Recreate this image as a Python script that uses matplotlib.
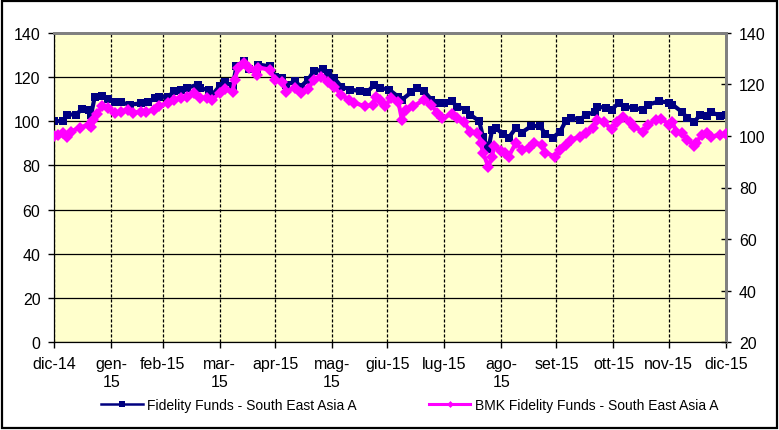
import matplotlib
matplotlib.use('Agg')
import matplotlib.pyplot as plt
from matplotlib.patches import Rectangle
import pandas as pd

plt.rcParams['font.family'] = ['Liberation Sans', 'DejaVu Sans']

# Fidelity Funds - South East Asia A (left axis)
fund_dates = ['2014-12-31', '2015-01-05', '2015-01-07', '2015-01-12', '2015-01-15', '2015-01-19',
              '2015-01-20', '2015-01-22', '2015-01-26', '2015-01-29', '2015-02-02', '2015-02-05',
              '2015-02-10', '2015-02-16', '2015-02-20', '2015-02-24', '2015-02-26', '2015-03-03',
              '2015-03-06', '2015-03-10', '2015-03-13', '2015-03-19', '2015-03-20', '2015-03-25',
              '2015-03-27', '2015-03-31', '2015-04-03', '2015-04-07', '2015-04-09', '2015-04-13',
              '2015-04-16', '2015-04-20', '2015-04-21', '2015-04-27', '2015-04-30', '2015-05-04',
              '2015-05-06', '2015-05-11', '2015-05-14', '2015-05-18', '2015-05-21', '2015-05-26',
              '2015-05-29', '2015-06-01', '2015-06-05', '2015-06-10', '2015-06-15', '2015-06-19',
              '2015-06-23', '2015-06-26', '2015-07-01', '2015-07-06', '2015-07-08', '2015-07-13',
              '2015-07-16', '2015-07-20', '2015-07-24', '2015-07-28', '2015-07-31', '2015-08-04',
              '2015-08-07', '2015-08-12', '2015-08-14', '2015-08-19', '2015-08-21', '2015-08-24',
              '2015-08-26', '2015-08-28', '2015-09-01', '2015-09-04', '2015-09-08', '2015-09-11',
              '2015-09-16', '2015-09-21', '2015-09-24', '2015-09-28', '2015-10-02', '2015-10-05',
              '2015-10-08', '2015-10-13', '2015-10-16', '2015-10-21', '2015-10-22', '2015-10-27',
              '2015-10-30', '2015-11-03', '2015-11-06', '2015-11-11', '2015-11-16', '2015-11-19',
              '2015-11-25', '2015-11-30', '2015-12-02', '2015-12-07', '2015-12-10', '2015-12-14',
              '2015-12-17', '2015-12-21', '2015-12-23', '2015-12-28', '2015-12-31']
fund_values = [100, 100, 103, 103, 105.5, 105,
               103, 111, 111.5, 110, 108.5, 108.5,
               107.5, 108, 108.5, 110.5, 111, 111,
               113.5, 114, 115, 116.5, 115, 114,
               112, 116, 117.5, 116, 124.8, 127,
               123.4, 122.5, 125.6, 124.8, 120, 119.7,
               116.5, 118, 115.6, 118.8, 122.5, 123.4,
               121.9, 119.7, 115.6, 114.3, 113.6, 113,
               116.5, 115, 114.3, 111, 109.7, 113,
               115, 113.6, 109.7, 108.4, 108, 109,
               106.6, 105.2, 103, 100, 93, 87.5,
               96, 97, 94, 92.5, 97, 94.8,
               97.6, 98, 94, 92.5, 95.3, 100,
               101.6, 100.7, 103, 104, 106.6, 106,
               105.2, 108.4, 106.6, 106, 105.2, 107.5,
               109, 108.4, 107.5, 104.3, 101.6, 99.5,
               103, 102.5, 104, 102.5, 103]

# BMK Fidelity Funds - South East Asia A (right axis)
bmk_dates = ['2014-12-31', '2015-01-02', '2015-01-05', '2015-01-07', '2015-01-09', '2015-01-14',
             '2015-01-19', '2015-01-20', '2015-01-21', '2015-01-23', '2015-01-26', '2015-01-29',
             '2015-02-02', '2015-02-05', '2015-02-09', '2015-02-12', '2015-02-16', '2015-02-19',
             '2015-02-23', '2015-02-26', '2015-03-03', '2015-03-06', '2015-03-10', '2015-03-13',
             '2015-03-17', '2015-03-20', '2015-03-24', '2015-03-27', '2015-03-31', '2015-04-03',
             '2015-04-07', '2015-04-08', '2015-04-10', '2015-04-13', '2015-04-16', '2015-04-20',
             '2015-04-21', '2015-04-27', '2015-04-30', '2015-05-04', '2015-05-06', '2015-05-11',
             '2015-05-14', '2015-05-18', '2015-05-21', '2015-05-25', '2015-05-29', '2015-06-01',
             '2015-06-05', '2015-06-09', '2015-06-12', '2015-06-18', '2015-06-22', '2015-06-24',
             '2015-06-26', '2015-06-29', '2015-07-02', '2015-07-06', '2015-07-08', '2015-07-10',
             '2015-07-14', '2015-07-20', '2015-07-24', '2015-07-27', '2015-07-30', '2015-08-04',
             '2015-08-07', '2015-08-11', '2015-08-14', '2015-08-18', '2015-08-20', '2015-08-21',
             '2015-08-24', '2015-08-26', '2015-08-27', '2015-08-31', '2015-09-02', '2015-09-04',
             '2015-09-08', '2015-09-11', '2015-09-15', '2015-09-18', '2015-09-22', '2015-09-24',
             '2015-09-29', '2015-10-02', '2015-10-05', '2015-10-08', '2015-10-13', '2015-10-16',
             '2015-10-20', '2015-10-22', '2015-10-26', '2015-10-30', '2015-11-02', '2015-11-05',
             '2015-11-09', '2015-11-11', '2015-11-16', '2015-11-19', '2015-11-23', '2015-11-26',
             '2015-11-30', '2015-12-02', '2015-12-04', '2015-12-07', '2015-12-10', '2015-12-14',
             '2015-12-15', '2015-12-18', '2015-12-21', '2015-12-23', '2015-12-28', '2015-12-31']
bmk_values = [100, 100.5, 101.3, 99.7, 101.7, 103.2,
              104.4, 103.6, 106.3, 108.3, 111.4, 111,
              109, 109.4, 110.2, 109, 109.4, 109.4,
              110.2, 111.4, 112.9, 114.1, 114.8, 115.2,
              116.8, 114.8, 114.8, 114, 116.8, 118,
              117.2, 121.8, 126.5, 128.4, 126.5, 123.7,
              126.5, 125.7, 121.8, 121, 117.2, 118.7,
              116.8, 118, 121.8, 123, 121, 119,
              116, 114, 112.9, 111.4, 112.1, 115.2,
              114, 111.4, 114.8, 113.3, 106.3, 110.2,
              111.4, 114, 112.1, 109, 107.1, 108.3,
              107.1, 105.2, 101.7, 101.3, 97.4, 93.5,
              88.1, 92, 95.9, 94, 93.5, 92,
              97.4, 94.7, 95.5, 97.4, 96.6, 93.5,
              92, 94.7, 96.6, 98.6, 99.7, 101.3,
              103.2, 106.3, 105.2, 102.5, 105.5, 107.5,
              105.5, 103.6, 101.7, 104.4, 106.3, 106.7,
              104.4, 105.5, 101.7, 101.3, 98.6, 95.9,
              97.4, 100.5, 101.3, 99.7, 100.5, 100.9]

month_labels = ['dic-14', 'gen-\n15', 'feb-15', 'mar-\n15', 'apr-15', 'mag-\n15', 'giu-15',
                'lug-15', 'ago-\n15', 'set-15', 'ott-15', 'nov-15', 'dic-15']
month_ticks = pd.date_range('2014-12-31', '2015-12-31', freq='ME')

W, H = 779, 431
fig = plt.figure(figsize=(W / 100, H / 100), dpi=100)
fig.patch.set_facecolor('white')
ax = fig.add_axes([54.3 / W, 1 - 343.3 / H, (725.7 - 54.3) / W, (343.3 - 33.7) / H])
ax.set_facecolor('#FFFFCC')
ax2 = ax.twinx()

fd = pd.to_datetime(fund_dates)
bd = pd.to_datetime(bmk_dates)

l1, = ax.plot(fd, fund_values, color='#000080', lw=3, marker='s', ms=6, mew=0,
              label='Fidelity Funds - South East Asia A', zorder=3)
l2, = ax2.plot(bd, bmk_values, color='#FF00FF', lw=3, marker='D', ms=6, mew=0,
               label='BMK Fidelity Funds - South East Asia A', zorder=3)

ax.set_xlim(month_ticks[0], month_ticks[-1])
ax.set_ylim(0, 140)
ax2.set_ylim(20, 140)
ax.set_yticks(range(0, 141, 20))
ax2.set_yticks(range(20, 141, 20))
ax.set_xticks(month_ticks)
ax.set_xticklabels(month_labels)

ax.yaxis.grid(True, color='black', lw=0.9)
ax.xaxis.grid(True, color='black', lw=0.9, linestyle=(0, (2.5, 1.5)))
ax.set_axisbelow(True)

ax.tick_params(axis='y', direction='out', length=4, width=1, pad=6, labelsize=11.5)
ax.tick_params(axis='x', direction='out', length=4, width=1, pad=6, labelsize=11.5)
ax2.tick_params(axis='y', direction='inout', length=7, width=1, pad=6, labelsize=11.5)

for a in (ax, ax2):
    a.spines['left'].set_color('black')
    a.spines['bottom'].set_color('black')
    a.spines['top'].set_color('#808080')
    a.spines['top'].set_linewidth(2)
    a.spines['right'].set_color('#808080')
    a.spines['right'].set_linewidth(2)

leg = fig.legend(handles=[l1, l2], loc='center left', bbox_to_anchor=(101 / W, 1 - 406 / H),
                 ncol=2, frameon=False, fontsize=10, handlelength=3, handletextpad=0.3,
                 columnspacing=5.2, borderpad=0, borderaxespad=0)
hs = leg.legend_handles
hs[0].set_linewidth(1.8)
hs[0].set_markersize(5)
hs[1].set_linewidth(2.2)
hs[1].set_markersize(3.5)

fig.patches.append(Rectangle((1.5 / W, 2.5 / H), (776.5 - 1.5) / W, (429 - 2.5) / H,
                             transform=fig.transFigure, fill=False, edgecolor='black', lw=1.6))

fig.savefig('out.png', dpi=100)
